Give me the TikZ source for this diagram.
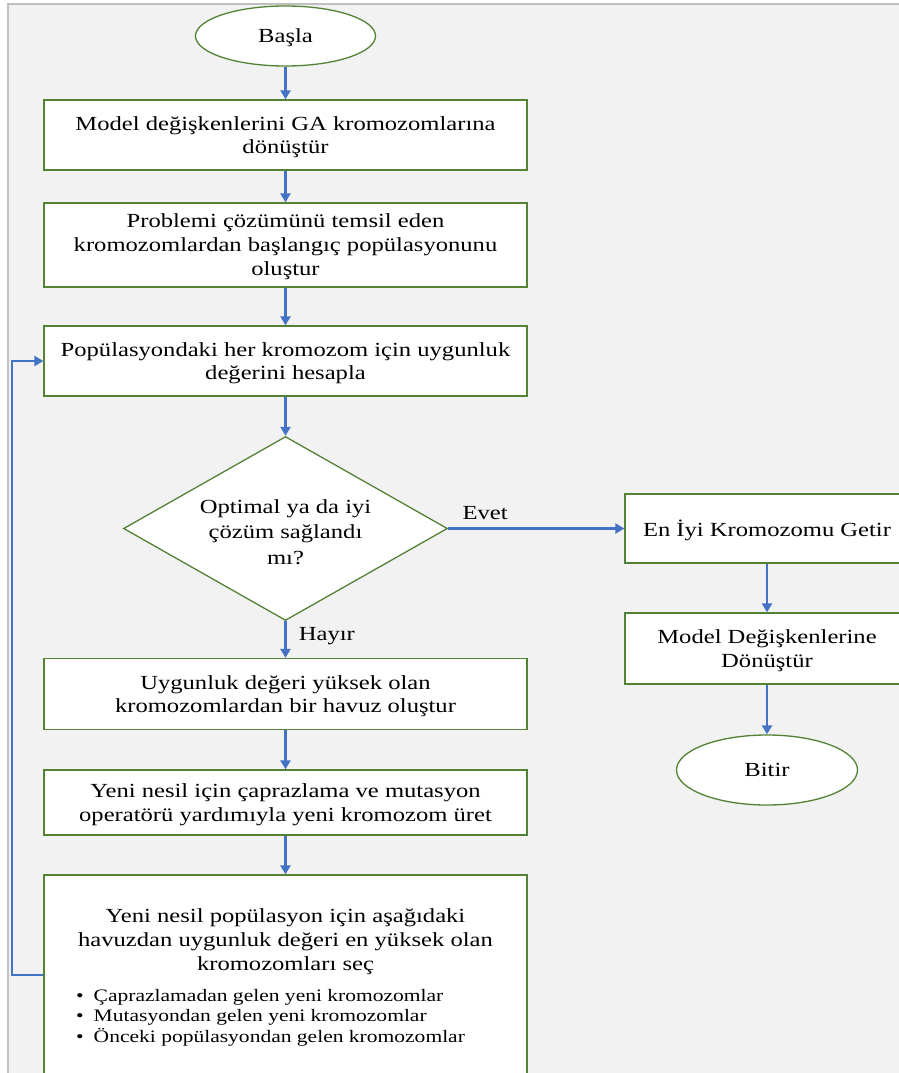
\documentclass[tikz,border=0pt]{standalone}
\usepackage{fontspec}
\setmainfont{Liberation Serif}[FakeStretch=1.23]
\usetikzlibrary{shapes.geometric,arrows.meta}
\definecolor{pagebg}{HTML}{F2F2F2}
\definecolor{framegray}{HTML}{BFBFBF}
\definecolor{boxgreen}{HTML}{548235}
\definecolor{flowblue}{HTML}{4472C4}
\begin{document}
\begin{tikzpicture}[x=1pt,y=-1pt,
  stepbox/.style={rectangle,draw=boxgreen,line width=1.3pt,fill=white,inner sep=0pt,
    align=center,text depth=0pt,font=\fontsize{20}{23.5}\selectfont},
  termbox/.style={ellipse,draw=boxgreen,line width=1.3pt,fill=white,inner sep=0pt,
    text depth=0pt,font=\fontsize{20}{24}\selectfont},
  decbox/.style={diamond,draw=boxgreen,line width=1.3pt,fill=white,inner sep=0pt},
  flowline/.style={draw=flowblue,line width=2.8pt,-{Triangle[length=9pt,width=10pt]}},
  lbl/.style={font=\fontsize{20}{24}\selectfont,inner sep=0pt},
]
\useasboundingbox (0,0) rectangle (899,1073);
\fill[white] (0,0) rectangle (899,1073);
\filldraw[fill=pagebg,draw=framegray,line width=1.5pt] (8,4) rectangle (930,1110);

% main column
\node[termbox,minimum width=180pt,minimum height=60pt] (start) at (285.5,36) {Başla};
\node[stepbox,minimum width=483pt,minimum height=70pt] (b1) at (285.5,135)
  {Model değişkenlerini GA kromozomlarına\\dönüştür};
\node[stepbox,minimum width=483pt,minimum height=84pt,font=\fontsize{20}{24}\selectfont] (b2) at (285.5,245)
  {Problemi çözümünü temsil eden\\kromozomlardan başlangıç popülasyonunu\\oluştur};
\node[stepbox,minimum width=483pt,minimum height=70pt] (b3) at (285.5,361)
  {Popülasyondaki her kromozom için uygunluk\\değerini hesapla};
\node[decbox,minimum width=324pt,minimum height=184pt] (dec) at (285.5,528.5) {};
\node[lbl,align=center,font=\fontsize{20}{25.5}\selectfont] (dectext) at (285.5,532)
  {Optimal ya da iyi\\çözüm sağlandı\\mı?};
\node[stepbox,minimum width=483pt,minimum height=71pt] (b4) at (285.5,694)
  {Uygunluk değeri yüksek olan\\kromozomlardan bir havuz oluştur};
\node[stepbox,minimum width=483pt,minimum height=65pt] (b5) at (285.5,802.5)
  {Yeni nesil için çaprazlama ve mutasyon\\operatörü yardımıyla yeni kromozom üret};
\node[stepbox,minimum width=483pt,minimum height=215pt] (b6) at (285.5,982.5) {};
\node[lbl,align=center,font=\fontsize{20}{24}\selectfont] (b6text) at (285.5,942)
  {Yeni nesil popülasyon için aşağıdaki\\havuzdan uygunluk değeri en yüksek olan\\kromozomları seç};
\node[lbl,align=left,anchor=north west,font=\fontsize{17.5}{20.5}\selectfont] (b6list) at (76,989)
  {\textbullet\hspace{10pt}Çaprazlamadan gelen yeni kromozomlar\\
   \textbullet\hspace{10pt}Mutasyondan gelen yeni kromozomlar\\
   \textbullet\hspace{10pt}Önceki popülasyondan gelen kromozomlar};

% right column
\node[stepbox,minimum width=284pt,minimum height=69pt] (best) at (767,528.5)
  {En İyi Kromozomu Getir};
\node[stepbox,minimum width=284pt,minimum height=71pt] (conv) at (767,648.5)
  {Model Değişkenlerine\\Dönüştür};
\node[termbox,minimum width=181pt,minimum height=70pt] (stop) at (767,770) {Bitir};

% connectors
\draw[flowline] (start) -- (b1);
\draw[flowline] (b1) -- (b2);
\draw[flowline] (b2) -- (b3);
\draw[flowline] (b3) -- (dec);
\draw[flowline] (dec) -- node[lbl,pos=0.21,above=7pt] {Evet} (best);
\draw[flowline] (dec) -- node[lbl,pos=0.42,right=12pt] {Hayır} (b4);
\draw[flowline] (b4) -- (b5);
\draw[flowline] (b5) -- (b6);
\draw[flowline] (best) -- (conv);
\draw[flowline] (conv) -- (stop);
\coordinate (loopcorner) at (12,975);
\draw[flowline] ([yshift=7.5pt]b6.west) -- (loopcorner) |- (b3.west);
\end{tikzpicture}
\end{document}
